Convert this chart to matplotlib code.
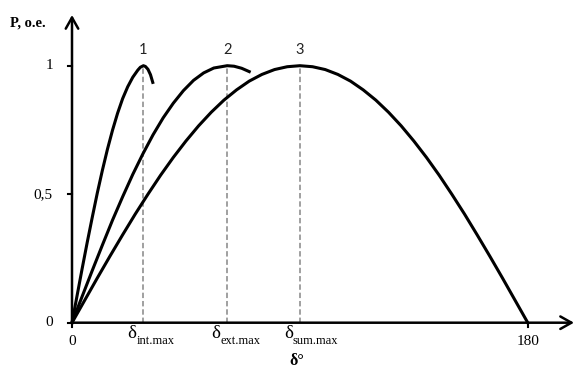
import matplotlib
matplotlib.use("Agg")
import matplotlib.pyplot as plt

# ---- data ----
d1 = [0, 2, 4, 6, 8, 10, 12, 14, 16, 18, 20, 22, 24, 26, 27, 28.2, 29, 30, 31, 31.9]
p1 = [0, 0.105, 0.210, 0.312, 0.410, 0.505, 0.593, 0.675, 0.749, 0.815, 0.872, 0.918,
      0.955, 0.983, 0.994, 1.0, 0.997, 0.986, 0.965, 0.935]

d2 = [0, 4, 8, 12, 16, 20, 24, 28, 32, 36, 40, 44, 48, 52, 56, 61.3, 64, 67, 70]
p2 = [0, 0.102, 0.203, 0.302, 0.399, 0.490, 0.577, 0.657, 0.731, 0.797, 0.854, 0.903,
      0.943, 0.972, 0.991, 1.0, 0.998, 0.990, 0.977]

d3 = [0, 5, 10, 15, 20, 25, 30, 35, 40, 45, 50, 55, 60, 65, 70, 75, 80, 85, 90,
      95, 100, 105, 110, 115, 120, 125, 130, 135, 140, 145, 150, 155, 160, 165, 170, 175, 180]
p3 = [0, 0.087, 0.174, 0.259, 0.342, 0.423, 0.500, 0.574, 0.643, 0.707, 0.766, 0.819,
      0.866, 0.906, 0.940, 0.966, 0.985, 0.996, 1.0,
      0.996, 0.985, 0.966, 0.940, 0.906, 0.866, 0.819, 0.766, 0.707, 0.643, 0.574,
      0.500, 0.423, 0.342, 0.259, 0.174, 0.087, 0]

curve_labels = ["1", "2", "3"]
peak_deg = [28.2, 61.3, 90]
peak_sub = ["int.max", "ext.max", "sum.max"]
yticks = [0, 0.5, 1]
ytick_labels = ["0", "0,5", "1"]
xticks = [0, 180]
xtick_labels = ["0", "180"]

# ---- layout ----
W, H = 575, 369
fig = plt.figure(figsize=(W / 100, H / 100), dpi=100)
ax = fig.add_axes([0, 0, 1, 1])
x0px, sx = 72.0, 2.532          # pixel of delta=0, px per degree
y0top = 322.7                   # pixel (from top) of P=0
y0px, sy = H - y0top, 257.0
ax.set_xlim(-x0px / sx, (W - x0px) / sx)
ax.set_ylim(-y0px / sy, (H - y0px) / sy)
ax.axis("off")


def px_x(p):
    return (p - x0px) / sx


def px_y(ptop):
    return (y0top - ptop) / sy


serif = "Liberation Serif"

# curves
for d, p in [(d1, p1), (d2, p2), (d3, p3)]:
    ax.plot(d, p, color="black", lw=2.2, solid_joinstyle="round", clip_on=False, zorder=3)

# dashed verticals and labels
for lab, xd, sub in zip(curve_labels, peak_deg, peak_sub):
    ax.plot([xd, xd], [0, 1], color="#999999", lw=1.3, ls=(0, (3, 1.6)), zorder=1)
    ax.text(xd, 1.035, lab, ha="center", va="bottom", fontsize=10.5,
            family="Lato", color="#222222")
    xl = xd - 16 / sx
    ax.text(xl, px_y(325), "δ", ha="left", va="top", fontsize=13.5, family=serif)
    ax.text(xl + 9 / sx, px_y(344), sub, ha="left", va="baseline", fontsize=9,
            family=serif)

# axes with arrows
ymax_arrow = px_y(15)
xmax_arrow = px_x(W - 1)
style = "->,head_length=0.8,head_width=0.45"
ax.annotate("", xy=(xmax_arrow, 0), xytext=(0, 0),
            arrowprops=dict(arrowstyle=style, lw=1.8, color="black",
                            shrinkA=0, shrinkB=0))
ax.annotate("", xy=(0, ymax_arrow), xytext=(0, 0),
            arrowprops=dict(arrowstyle=style, lw=1.8, color="black",
                            shrinkA=0, shrinkB=0))

# ticks
tl = 4.5
for yv, ylab in zip(yticks, ytick_labels):
    ax.plot([-tl / sx, 0], [yv, yv], color="black", lw=1.5)
    ax.text(-19 / sx, yv, ylab, ha="right", va="center", fontsize=11, family=serif)
for xv, xlab in zip(xticks, xtick_labels):
    ax.plot([xv, xv], [-tl / sy, 0], color="black", lw=1.5)
    ax.text(xv, -12 / sy, xlab, ha="center", va="top", fontsize=11, family=serif)

# axis titles
ax.text(px_x(10), px_y(23), "P, o.e.", ha="left", va="center",
        fontsize=10.5, family=serif, weight="bold")
ax.text(px_x(297), px_y(361), "δ°", ha="center", va="center",
        fontsize=11.5, family=serif, weight="bold")

fig.savefig("out.png", dpi=100)
